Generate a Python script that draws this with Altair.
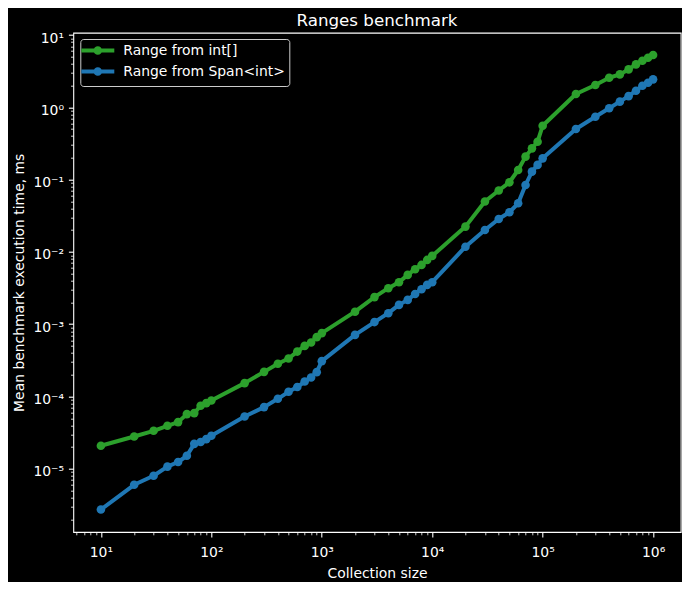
import altair as alt
import pandas as pd

# ---- data ----
sizes = [10, 20, 30, 40, 50, 60, 70, 80, 90, 100,
         200, 300, 400, 500, 600, 700, 800, 900, 1000,
         2000, 3000, 4000, 5000, 6000, 7000, 8000, 9000, 10000,
         20000, 30000, 40000, 50000, 60000, 70000, 80000, 90000, 100000,
         200000, 300000, 400000, 500000, 600000, 700000, 800000, 900000, 1000000]

int_array_ms = [2.08e-5, 2.79e-5, 3.35e-5, 3.93e-5, 4.42e-5, 5.70e-5, 5.89e-5, 7.43e-5, 8.09e-5, 8.79e-5,
                1.53e-4, 2.19e-4, 2.83e-4, 3.35e-4, 4.18e-4, 5.01e-4, 5.57e-4, 6.62e-4, 7.52e-4,
                1.49e-3, 2.37e-3, 3.15e-3, 3.81e-3, 4.81e-3, 5.77e-3, 6.61e-3, 7.75e-3, 8.81e-3,
                0.0224, 0.0499, 0.0708, 0.0918, 0.136, 0.208, 0.271, 0.335, 0.557,
                1.53, 2.04, 2.57, 2.86, 3.35, 3.93, 4.41, 4.86, 5.29]

span_ms = [2.73e-6, 6.0e-6, 8.0e-6, 1.07e-5, 1.24e-5, 1.51e-5, 2.21e-5, 2.34e-5, 2.57e-5, 2.86e-5,
           5.28e-5, 7.13e-5, 9.28e-5, 1.16e-4, 1.35e-4, 1.61e-4, 1.83e-4, 2.17e-4, 3.08e-4,
           7.11e-4, 1.07e-3, 1.42e-3, 1.85e-3, 2.17e-3, 2.62e-3, 3.05e-3, 3.50e-3, 3.81e-3,
           0.0118, 0.0201, 0.0286, 0.0354, 0.0471, 0.0843, 0.129, 0.160, 0.197,
           0.501, 0.741, 0.970, 1.20, 1.43, 1.70, 1.99, 2.19, 2.44]

series_names = ["Range from int[]", "Range from Span<int>"]
series_colors = ["#2ca02c", "#1f77b4"]

x_major = [10, 100, 1000, 10000, 100000, 1000000]
x_minor = [6, 7, 8, 9] + [k * 10 ** e for e in range(1, 6) for k in range(2, 10)]
y_major = [1e-5, 1e-4, 1e-3, 1e-2, 1e-1, 1, 10]
y_minor = [k * 10.0 ** e for e in range(-6, 1) for k in range(2, 10)]

x_domain = [10 ** 0.75, 10 ** 6.25]
y_domain = [10 ** -5.875, 10 ** 1.033]

# ---- build table ----
rows = []
for name, vals in zip(series_names, [int_array_ms, span_ms]):
    for s, v in zip(sizes, vals):
        rows.append({"size": s, "time": v, "series": name})
df = pd.DataFrame(rows)

sup = {"-": "\u207b", "0": "\u2070", "1": "\u00b9", "2": "\u00b2", "3": "\u00b3",
       "4": "\u2074", "5": "\u2075", "6": "\u2076", "7": "\u2077", "8": "\u2078", "9": "\u2079"}


def pow_label_expr(exps):
    e = "round(log(datum.value)/LN10)"
    expr = "''"
    for k in reversed(list(exps)):
        s = "10" + "".join(sup[c] for c in str(k))
        expr = f"({e}=={k}?'{s}':{expr})"
    return expr


FONT = "DejaVu Sans"
FS = 13.9

xscale = alt.Scale(type="log", domain=x_domain, nice=False, zero=False)
yscale = alt.Scale(type="log", domain=y_domain, nice=False, zero=False)

x_major_axis = alt.Axis(orient="bottom", values=x_major, labelExpr=pow_label_expr(range(0, 8)),
                        tickSize=4.9, tickWidth=1.1, labelBaseline="alphabetic", labelPadding=19.8,
                        labelAlign="center", title="Collection size", titleY=45.3,
                        titleBaseline="alphabetic", labelFlush=False, labelOverlap=False)
y_major_axis = alt.Axis(orient="left", values=y_major, labelExpr=pow_label_expr(range(-7, 3)),
                        tickSize=4.9, tickWidth=1.1, labelBaseline="alphabetic", labelOffset=7,
                        labelPadding=4.9, labelAlign="right",
                        title="Mean benchmark execution time, ms", titleX=-49.5, titleY=249.6,
                        titleAngle=270, titleBaseline="alphabetic", titleAlign="center",
                        labelFlush=False, labelOverlap=False)
x_minor_axis = alt.Axis(orient="bottom", values=x_minor, labels=False, tickSize=2.8,
                        tickWidth=0.8, title=None)
y_minor_axis = alt.Axis(orient="left", values=y_minor, labels=False, tickSize=2.8,
                        tickWidth=0.8, title=None)

legend_symbol = "M-3,0L3,0M-0.42,0A0.42,0.42,0,1,0,0.42,0A0.42,0.42,0,1,0,-0.42,0Z"
legend = alt.Legend(
    title=None, orient="none", legendX=7, legendY=6.3,
    symbolType=legend_symbol, symbolSize=121, symbolStrokeWidth=4, symbolOpacity=1,
    symbolOffset=6, labelOffset=18, rowPadding=0, padding=4,
    labelFont=FONT, labelFontSize=FS, labelColor="white", labelLimit=400,
    fillColor="rgba(0,0,0,0.8)", strokeColor="#cccccc", cornerRadius=3,
)
color = alt.Color("series:N", scale=alt.Scale(domain=series_names, range=series_colors),
                  legend=legend)

base = alt.Chart(df)

lines = base.mark_line(strokeWidth=4, strokeJoin="round").encode(
    x=alt.X("size:Q", scale=xscale, axis=x_major_axis),
    y=alt.Y("time:Q", scale=yscale, axis=y_major_axis),
    color=color,
    detail="series:N",
)
points = base.mark_circle(size=74, opacity=1).encode(
    x=alt.X("size:Q", scale=xscale, axis=x_major_axis),
    y=alt.Y("time:Q", scale=yscale, axis=y_major_axis),
    color=color,
)
minor = base.mark_point(opacity=0).encode(
    x=alt.X("size:Q", scale=xscale, axis=x_minor_axis),
    y=alt.Y("time:Q", scale=yscale, axis=y_minor_axis),
)

chart = (
    alt.layer(minor, lines + points)
    .resolve_axis(x="independent", y="independent")
    .properties(
        width=607.4, height=499.3,
        autosize=alt.AutoSizeParams(type="none"),
        padding={"left": 65.3, "top": 24.7, "right": 1.3, "bottom": 50},
        title=alt.Title("Ranges benchmark", fontSize=16.7, font=FONT, fontWeight="normal",
                        color="white", anchor="middle", baseline="alphabetic", offset=8.3,
                        dy=20),
    )
    .configure(background="black", font=FONT)
    .configure_view(stroke="white", strokeWidth=1.1)
    .configure_axis(labelColor="white", tickColor="white", titleColor="white",
                    labelFont=FONT, titleFont=FONT, labelFontSize=FS, titleFontSize=FS,
                    titleFontWeight="normal", grid=False, domain=False)
    .configure_legend(strokeWidth=1)
)

chart.save("out.html", embed_options={"renderer": "svg", "actions": False})
